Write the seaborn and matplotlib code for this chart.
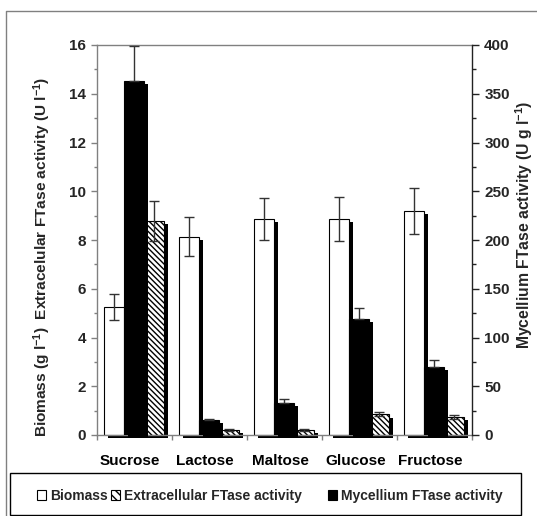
import numpy as np
import pandas as pd
import seaborn as sns
import matplotlib
matplotlib.use("Agg")
import matplotlib.pyplot as plt
from matplotlib.patches import Rectangle, Patch
from matplotlib.transforms import ScaledTranslation
from matplotlib.lines import Line2D
from matplotlib.ticker import MultipleLocator

# ---------------- data ----------------
categories = ["Sucrose", "Lactose", "Maltose", "Glucose", "Fructose"]
biomass = [5.26, 8.14, 8.87, 8.87, 9.19]              # g l-1 (left axis)
biomass_err = [0.53, 0.80, 0.86, 0.90, 0.93]
extracellular = [8.78, 0.20, 0.20, 0.85, 0.75]        # U l-1 (left axis)
extracellular_err = [0.83, 0.04, 0.03, 0.09, 0.08]
mycellium = [363, 15.4, 33, 119, 70]                  # U g l-1 (right axis)
mycellium_err = [36, 1.0, 4, 11.5, 6.5]

series_order = ["Biomass", "Mycellium FTase activity", "Extracellular FTase activity"]
left_label = "Biomass (g l$^{-1}$)  Extracelular FTase activity (U l$^{-1}$)"
right_label = "Mycellium FTase activity (U g l$^{-1}$)"

# ---------------- style ----------------
sns.set_theme(style="white")
plt.rcParams["font.family"] = ["Liberation Sans", "DejaVu Sans"]
plt.rcParams["font.weight"] = "bold"
plt.rcParams["mathtext.fontset"] = "custom"
plt.rcParams["mathtext.rm"] = "Liberation Sans:bold"
plt.rcParams["mathtext.it"] = "Liberation Sans:bold"
plt.rcParams["mathtext.bf"] = "Liberation Sans:bold"
plt.rcParams["hatch.linewidth"] = 1.0
plt.rcParams["hatch.color"] = "black"

HATCH = "\\\\\\\\\\\\"
GRAY = "#808080"
ERR = "#333333"
FS = 11

n = len(categories)
left_df = pd.DataFrame({
    "category": categories * 3,
    "series": np.repeat(series_order, n),
    "value": biomass + [0.0] * n + extracellular,
})
right_df = pd.DataFrame({
    "category": categories * 3,
    "series": np.repeat(series_order, n),
    "value": [0.0] * n + mycellium + [0.0] * n,
})
palette = {"Biomass": "white", "Mycellium FTase activity": "black",
           "Extracellular FTase activity": "white"}

fig = plt.figure(figsize=(5.37, 5.16), dpi=100)
ax = fig.add_axes([96.7 / 537, 1 - 435 / 516, (471.7 - 96.7) / 537, (435 - 45) / 516])

sns.barplot(data=left_df, x="category", y="value", hue="series", order=categories,
            hue_order=series_order, palette=palette, errorbar=None, legend=False,
            width=0.8, saturation=1, edgecolor="black", linewidth=0.8, ax=ax)
ax2 = ax.twinx()
sns.barplot(data=right_df, x="category", y="value", hue="series", order=categories,
            hue_order=series_order, palette=palette, errorbar=None, legend=False,
            width=0.8, saturation=1, edgecolor="black", linewidth=0.8, ax=ax2)

# hide placeholder bars and set hatch
for i, cont in enumerate(ax.containers):
    for p in cont:
        if series_order[i] == "Mycellium FTase activity":
            p.set_visible(False)
        if series_order[i] == "Extracellular FTase activity":
            p.set_hatch(HATCH)
for i, cont in enumerate(ax2.containers):
    for p in cont:
        if series_order[i] != "Mycellium FTase activity":
            p.set_visible(False)

# Excel-like drop shadows
off = ScaledTranslation(3.3 / 100, -3.3 / 100, fig.dpi_scale_trans)
for a in (ax, ax2):
    for p in list(a.patches):
        if not p.get_visible():
            continue
        sh = Rectangle((p.get_x(), p.get_y()), p.get_width(), p.get_height(),
                       facecolor="black", edgecolor="none", linewidth=0,
                       transform=a.transData + off, zorder=0.5, clip_on=False)
        a.add_artist(sh)

def centers(cont):
    return [p.get_x() + p.get_width() / 2 for p in cont]

xb = centers(ax.containers[0])
xe = centers(ax.containers[2])
xm = centers(ax2.containers[1])
ax.errorbar(xb, biomass, yerr=biomass_err, fmt="none", ecolor=ERR, elinewidth=1,
            capsize=3.5, capthick=1, zorder=3)
ax.errorbar(xe, extracellular, yerr=extracellular_err, fmt="none", ecolor=ERR,
            elinewidth=1, capsize=3.5, capthick=1, zorder=3)
ax2.errorbar(xm, mycellium, yerr=[[0] * n, mycellium_err], fmt="none", ecolor=ERR,
             elinewidth=1, capsize=3.5, capthick=1, zorder=3)

# axes limits & ticks
ax.set_xlim(-0.5, n - 0.5)
ax.set_ylim(0, 16)
ax2.set_ylim(0, 400)
ax.yaxis.set_major_locator(MultipleLocator(2))
ax.yaxis.set_minor_locator(MultipleLocator(1))
ax2.yaxis.set_major_locator(MultipleLocator(50))
ax2.yaxis.set_minor_locator(MultipleLocator(25))
ax.set_xticks(range(n))
ax.set_xticklabels(categories)
ax.set_xticks(np.arange(-0.5, n, 1), minor=True)
ax.tick_params(axis="x", which="major", length=0, pad=14, labelsize=FS, labelcolor="black")
ax.tick_params(axis="x", which="minor", length=3.5, width=1, color=GRAY, direction="out", bottom=True)
ax.tick_params(axis="y", which="major", length=4.5, width=1, color=GRAY, direction="out",
               left=True, labelsize=FS, pad=3)
ax.tick_params(axis="y", which="minor", length=2.5, width=1, color=GRAY, direction="out", left=True)
ax2.tick_params(axis="y", which="major", length=5, width=1, color="#222222", direction="out",
                right=True, labelsize=FS, pad=4)
ax2.tick_params(axis="y", which="minor", length=3, width=1, color="#222222", direction="out", right=True)
for lab in ax.get_xticklabels() + ax.get_yticklabels() + ax2.get_yticklabels():
    lab.set_fontweight("bold")
for lab in ax.get_xticklabels():
    lab.set_transform(lab.get_transform() + ScaledTranslation(-4 / 100, 0, fig.dpi_scale_trans))

ax.set_xlabel("")
ax.set_ylabel("")
ax2.set_ylabel("")
ax2.set_xlabel("")
for s in ("left", "bottom", "top"):
    ax.spines[s].set_color(GRAY)
    ax.spines[s].set_linewidth(1)
ax.spines["right"].set_visible(False)
for s in ("left", "bottom", "top"):
    ax2.spines[s].set_visible(False)
ax2.spines["right"].set_color("#222222")
ax2.spines["right"].set_linewidth(1)
ax.grid(False)
ax2.grid(False)

# axis titles
fig.text(42 / 537, 1 - 257 / 516, left_label, rotation=90, ha="center", va="center",
         fontsize=11.1, fontweight="bold")
fig.text(524 / 537, 1 - 225 / 516, right_label, rotation=90, ha="center", va="center",
         fontsize=11.3, fontweight="bold")

# outer chart border (partially cropped)
fig.add_artist(Line2D([6 / 537, 6 / 537, 1.0], [0.0, 1 - 11 / 516, 1 - 11 / 516],
                      transform=fig.transFigure, color=GRAY, lw=1))

# legend box
fig.add_artist(Rectangle((10 / 537, 1 - 515 / 516), 511 / 537, 42 / 516,
                         transform=fig.transFigure, facecolor="white",
                         edgecolor="black", lw=1))
prop = {"weight": "bold", "size": 10}
h1 = [Patch(facecolor="white", edgecolor="black", lw=0.8, label="Biomass"),
      Patch(facecolor="white", edgecolor="black", lw=0.8, hatch="\\\\\\\\",
            label="Extracellular FTase activity")]
h2 = [Patch(facecolor="black", edgecolor="black", lw=0.8, label="Mycellium FTase activity")]
yleg = 1 - 496 / 516
fig.legend(handles=h1, loc="center left", bbox_to_anchor=(37 / 537, yleg), ncol=2,
           frameon=False, prop=prop, handlelength=0.65, handleheight=0.65,
           handletextpad=0.3, columnspacing=0.2, borderpad=0, borderaxespad=0)
fig.legend(handles=h2, loc="center left", bbox_to_anchor=(328 / 537, yleg), ncol=1,
           frameon=False, prop=prop, handlelength=0.65, handleheight=0.65,
           handletextpad=0.3, borderpad=0, borderaxespad=0)

fig.savefig("out.png", dpi=100)
